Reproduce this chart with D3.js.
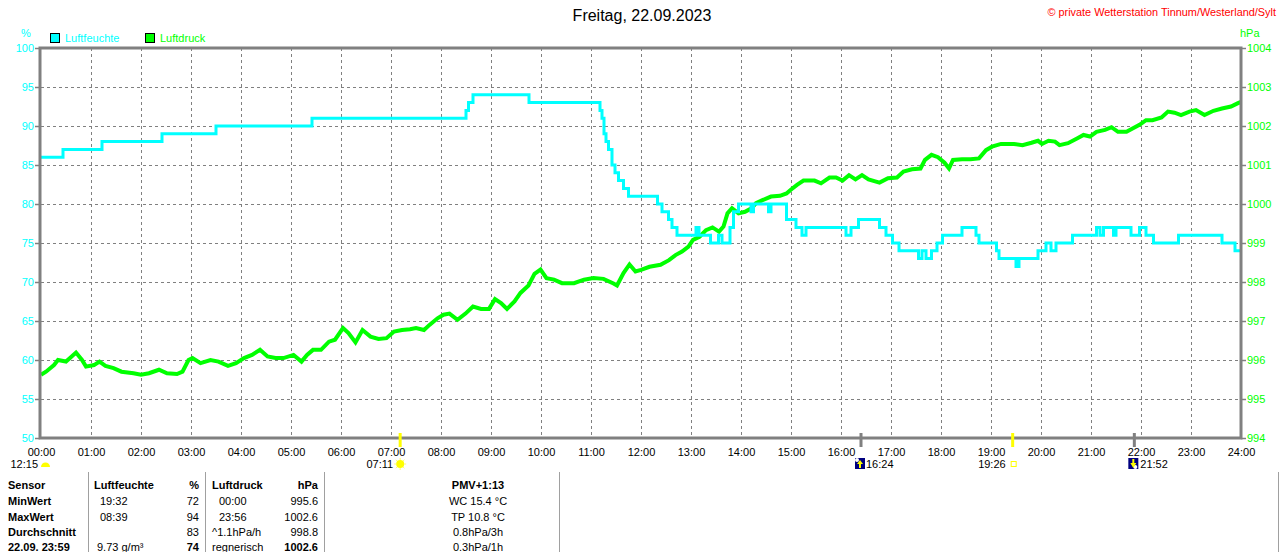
<!DOCTYPE html>
<html>
<head>
<meta charset="utf-8">
<script src="https://cdn.jsdelivr.net/npm/d3@7"></script>
<style>
  body { margin: 0; background: #fff; overflow: hidden; }
  svg { display: block; font-family: "Liberation Sans", Arial, sans-serif; }
</style>
</head>
<body>
<script>
// Daten
const hourLabels = ["00:00","01:00","02:00","03:00","04:00","05:00","06:00","07:00","08:00","09:00","10:00","11:00","12:00",
  "13:00","14:00","15:00","16:00","17:00","18:00","19:00","20:00","21:00","22:00","23:00","24:00"];
const humTicks = [50, 55, 60, 65, 70, 75, 80, 85, 90, 95, 100];
const presTicks = [994, 995, 996, 997, 998, 999, 1000, 1001, 1002, 1003, 1004];

// Luftfeuchte, Stufen (Stunde, %)
const humTimes = [0, 0.44, 1.22, 2.42, 3.50, 5.42, 8.50, 8.55, 8.64, 9.76, 11.18, 11.22, 11.26, 11.30, 11.35, 11.42, 11.48,
  11.55, 11.65, 11.75, 12.33, 12.42, 12.55, 12.62, 12.72, 13.10, 13.16, 13.39, 13.55, 13.62, 13.78, 13.85, 13.95, 14.20,
  14.25, 14.55, 14.60, 14.91, 15.10, 15.22, 15.30, 16.10, 16.20, 16.35, 16.77, 16.90, 17.03, 17.16, 17.55, 17.62, 17.70,
  17.81, 17.92, 18.03, 18.42, 18.70, 18.76, 19.11, 19.16, 19.50, 19.56, 19.94, 20.10, 20.20, 20.30, 20.63, 21.11, 21.18,
  21.25, 21.45, 21.50, 21.80, 21.97, 22.10, 22.25, 22.75, 23.62, 23.88, 24];
const humValues = [86, 87, 88, 89, 90, 91, 92, 93, 94, 93, 92, 91, 89, 88, 87, 85, 84,
  83, 82, 81, 80, 79, 78, 77, 76, 77, 76, 75, 76, 75, 77, 79, 80, 79,
  80, 79, 80, 78, 77, 76, 77, 76, 77, 78, 77, 76, 75, 74, 73, 74, 73,
  74, 75, 76, 77, 76, 75, 74, 73, 72, 73, 74, 75, 74, 75, 76, 77, 76,
  77, 76, 77, 76, 77, 76, 75, 76, 75, 74, 74];

// Luftdruck (Stunde, hPa)
const presTimes = [0, 0.10, 0.26, 0.34, 0.50, 0.58, 0.70, 0.82, 0.90, 1.06, 1.17, 1.29, 1.45, 1.61, 1.85, 2.00, 2.16, 2.36,
  2.52, 2.72, 2.83, 2.95, 3.03, 3.19, 3.39, 3.55, 3.74, 3.90, 4.06, 4.22, 4.38, 4.53, 4.69, 4.85, 5.05, 5.21, 5.32, 5.44,
  5.60, 5.76, 5.88, 6.04, 6.15, 6.29, 6.43, 6.59, 6.75, 6.91, 7.06, 7.22, 7.38, 7.50, 7.66, 7.77, 7.93, 8.05, 8.17, 8.33,
  8.49, 8.64, 8.80, 8.96, 9.08, 9.20, 9.32, 9.47, 9.59, 9.75, 9.87, 9.99, 10.11, 10.26, 10.42, 10.66, 10.86, 11.05, 11.25,
  11.45, 11.52, 11.65, 11.77, 11.89, 12.00, 12.17, 12.39, 12.56, 12.69, 12.82, 12.95, 13.04, 13.17, 13.30, 13.43, 13.56,
  13.65, 13.73, 13.82, 13.95, 14.08, 14.21, 14.30, 14.43, 14.60, 14.78, 14.91, 14.99, 15.12, 15.25, 15.47, 15.60, 15.77,
  15.90, 16.03, 16.16, 16.29, 16.42, 16.55, 16.77, 16.94, 17.12, 17.25, 17.42, 17.59, 17.68, 17.81, 17.94, 18.07, 18.16,
  18.24, 18.42, 18.59, 18.76, 18.90, 19.02, 19.20, 19.46, 19.63, 19.81, 19.94, 20.02, 20.15, 20.28, 20.37, 20.54, 20.72,
  20.85, 20.98, 21.11, 21.28, 21.41, 21.54, 21.71, 21.84, 21.97, 22.10, 22.23, 22.41, 22.54, 22.67, 22.80, 22.97, 23.10,
  23.27, 23.45, 23.62, 23.80, 23.93, 24];
const presValues = [995.62, 995.70, 995.87, 996.00, 995.96, 996.05, 996.19, 996.00, 995.83, 995.87, 995.96, 995.85, 995.79,
  995.70, 995.66, 995.62, 995.66, 995.75, 995.66, 995.64, 995.70, 996.00, 996.05, 995.92, 996.00, 995.96, 995.85, 995.92,
  996.05, 996.13, 996.26, 996.09, 996.05, 996.05, 996.13, 995.96, 996.13, 996.26, 996.26, 996.47, 996.52, 996.82, 996.69,
  996.45, 996.77, 996.60, 996.54, 996.56, 996.73, 996.77, 996.79, 996.82, 996.77, 996.90, 997.07, 997.16, 997.19, 997.03,
  997.19, 997.37, 997.31, 997.31, 997.56, 997.46, 997.31, 997.50, 997.72, 997.91, 998.21, 998.32, 998.10, 998.06, 997.97,
  997.97, 998.06, 998.10, 998.08, 997.96, 997.91, 998.23, 998.45, 998.27, 998.31, 998.39, 998.44, 998.56, 998.69, 998.78,
  998.91, 999.08, 999.16, 999.33, 999.40, 999.29, 999.42, 999.76, 999.89, 999.76, 999.80, 999.89, 1000.02, 1000.10,
  1000.19, 1000.21, 1000.27, 1000.36, 1000.49, 1000.60, 1000.60, 1000.53, 1000.68, 1000.68, 1000.60, 1000.74, 1000.63,
  1000.74, 1000.63, 1000.55, 1000.66, 1000.68, 1000.83, 1000.89, 1000.91, 1001.13, 1001.26, 1001.20, 1001.06, 1000.91,
  1001.13, 1001.15, 1001.15, 1001.17, 1001.38, 1001.47, 1001.54, 1001.54, 1001.51, 1001.57, 1001.62, 1001.54, 1001.62,
  1001.60, 1001.51, 1001.56, 1001.68, 1001.77, 1001.73, 1001.85, 1001.90, 1001.97, 1001.85, 1001.85, 1001.94, 1002.03,
  1002.15, 1002.15, 1002.22, 1002.37, 1002.34, 1002.28, 1002.37, 1002.41, 1002.28, 1002.39, 1002.45, 1002.50, 1002.58,
  1002.62];

// Sonne / Mond
const sunriseTime = "07:11";
const sunsetTime = "19:26";
const moonriseTime = "16:24";
const moonsetTime = "21:52";
const moonLeftLabel = "12:15";

// Tabelle
const tableHeader = ["Sensor", "Luftfeuchte", "%", "Luftdruck", "hPa", "PMV+1:13"];
const rowLabels = ["MinWert", "MaxWert", "Durchschnitt", "22.09. 23:59"];
const humInfo = ["19:32", "08:39", "", "9.73 g/m³"];
const humStats = ["72", "94", "83", "74"];
const presInfo = ["00:00", "23:56", "^1.1hPa/h", "regnerisch"];
const presStats = ["995.6", "1002.6", "998.8", "1002.6"];
const extraInfo = ["WC 15.4 °C", "TP 10.8 °C", "0.8hPa/3h", "0.3hPa/1h"];

const CYAN = "#00ffff", GREEN = "#00ff00", GRAY = "#808080";

const svg = d3.select("body").append("svg")
  .attr("width", 1280).attr("height", 552);

const x = d3.scaleLinear().domain([0, 24]).range([41, 1241]);
const yH = d3.scaleLinear().domain([50, 100]).range([438, 48]);
const yP = d3.scaleLinear().domain([994, 1004]).range([438, 48]);

function toHours(s) {
  const p = s.split(":");
  return +p[0] + p[1] / 60;
}

// Titel
svg.append("text").attr("x", 642).attr("y", 21).attr("text-anchor", "middle")
  .style("font-size", "16px").text("Freitag, 22.09.2023");
svg.append("text").attr("x", 1276).attr("y", 16).attr("text-anchor", "end")
  .attr("fill", "#ff0000").style("font-size", "10.9px")
  .text("© private Wetterstation Tinnum/Westerland/Sylt");

// Legende
svg.append("text").attr("x", 26).attr("y", 37).attr("text-anchor", "middle")
  .attr("fill", CYAN).style("font-size", "11px").text("%");
svg.append("text").attr("x", 1240).attr("y", 37)
  .attr("fill", GREEN).style("font-size", "11px").text("hPa");
const legend = [["Luftfeuchte", CYAN, 50], ["Luftdruck", GREEN, 145]];
legend.forEach(function (l) {
  svg.append("rect").attr("x", l[2] + 0.5).attr("y", 33.5).attr("width", 9).attr("height", 9)
    .attr("fill", l[1]).attr("stroke", "#000");
  svg.append("text").attr("x", l[2] + 15).attr("y", 42).attr("fill", l[1])
    .style("font-size", "11px").text(l[0]);
});

// Gitter
const grid = svg.append("g").attr("stroke", GRAY).attr("stroke-dasharray", "3,3").attr("stroke-width", 1);
grid.selectAll("line.v").data(d3.range(1, hourLabels.length - 1)).enter().append("line")
  .attr("x1", d => x(d) + 0.5).attr("x2", d => x(d) + 0.5).attr("y1", 48).attr("y2", 438);
grid.selectAll("line.h").data(humTicks.slice(1, -1)).enter().append("line")
  .attr("x1", 41).attr("x2", 1241).attr("y1", d => yH(d) + 0.5).attr("y2", d => yH(d) + 0.5);

// Achsen
const axL = svg.append("g").attr("transform", "translate(40,0)")
  .call(d3.axisLeft(yH).tickValues(humTicks).tickSize(5).tickPadding(1).tickFormat(d3.format("d")));
axL.selectAll("text").attr("fill", CYAN).style("font-size", "11px").style("font-family", "inherit");

const axR = svg.append("g").attr("transform", "translate(1241,0)")
  .call(d3.axisRight(yP).tickValues(presTicks).tickSize(5).tickPadding(1).tickFormat(d3.format("d")));
axR.selectAll("text").attr("fill", GREEN).style("font-size", "11px").style("font-family", "inherit");

const axB = svg.append("g").attr("transform", "translate(0,438)")
  .call(d3.axisBottom(x).tickValues(d3.range(hourLabels.length)).tickSize(0).tickPadding(10)
    .tickFormat((d, i) => hourLabels[i]));
axB.selectAll("text").attr("fill", "#000").style("font-size", "11px").style("font-family", "inherit");

[axL, axR, axB].forEach(function (a) {
  a.select(".domain").remove();
  a.selectAll("line").attr("stroke", GRAY).attr("stroke-width", 1.5);
});

// Linien
const pres = presTimes.map((t, i) => [t, presValues[i]]);
const hum = humTimes.map((t, i) => [t, humValues[i]]);

svg.append("path").datum(pres)
  .attr("fill", "none").attr("stroke", GREEN).attr("stroke-width", 4)
  .attr("stroke-linejoin", "miter")
  .attr("d", d3.line().x(d => x(d[0])).y(d => yP(d[1])));

svg.append("path").datum(hum)
  .attr("fill", "none").attr("stroke", CYAN).attr("stroke-width", 3)
  .attr("d", d3.line().x(d => x(d[0])).y(d => yH(d[1])).curve(d3.curveStepAfter));

// Rahmen
svg.append("rect").attr("x", 40).attr("y", 48).attr("width", 1201).attr("height", 390)
  .attr("fill", "none").attr("stroke", GRAY).attr("stroke-width", 3);

// Sonnenauf-/untergang, Mondauf-/untergang
const mk = svg.append("g");
const tRise = toHours(sunriseTime), tSet = toHours(sunsetTime);
const tMoonR = toHours(moonriseTime), tMoonS = toHours(moonsetTime);

[tRise, tSet].forEach(function (t) {
  mk.append("line").attr("x1", x(t)).attr("x2", x(t)).attr("y1", 433).attr("y2", 447)
    .attr("stroke", "#ffff00").attr("stroke-width", 3);
});
[tMoonR, tMoonS].forEach(function (t) {
  mk.append("line").attr("x1", x(t)).attr("x2", x(t)).attr("y1", 433).attr("y2", 447)
    .attr("stroke", GRAY).attr("stroke-width", 3);
});

// Sonnenaufgang
mk.append("text").attr("x", x(tRise) - 7).attr("y", 468).attr("text-anchor", "end")
  .style("font-size", "11px").text(sunriseTime);
const sun = mk.append("g").attr("transform", `translate(${x(tRise)},464)`);
sun.selectAll("line").data(d3.range(8)).enter().append("line")
  .attr("x1", d => Math.cos(d * Math.PI / 4) * 4).attr("y1", d => Math.sin(d * Math.PI / 4) * 4)
  .attr("x2", d => Math.cos(d * Math.PI / 4) * 6).attr("y2", d => Math.sin(d * Math.PI / 4) * 6)
  .attr("stroke", "#ffff66").attr("stroke-width", 1);
sun.append("circle").attr("r", 4).attr("fill", "#ffff00");

// Sonnenuntergang
mk.append("text").attr("x", x(tSet) - 7).attr("y", 468).attr("text-anchor", "end")
  .style("font-size", "11px").text(sunsetTime);
mk.append("rect").attr("x", x(tSet) - 1.5).attr("y", 461.5).attr("width", 5).attr("height", 5)
  .attr("fill", "none").attr("stroke", "#ffff00").attr("stroke-width", 1);

// Mond
function moonIcon(t, up) {
  const g = mk.append("g").attr("transform", `translate(${x(t) - 6},458)`);
  g.append("rect").attr("width", 10).attr("height", 11).attr("fill", "#000080");
  g.append("circle").attr("cx", up ? 2 : 7).attr("cy", up ? 2 : 9).attr("r", 2).attr("fill", "#fff");
  g.append("path").attr("fill", "#ffff00")
    .attr("d", up ? "M5,2 L8,6 L6,6 L6,10 L4,10 L4,6 L2,6 Z" : "M5,10 L8,5 L6,5 L6,1 L4,1 L4,5 L2,5 Z");
  return g;
}
moonIcon(tMoonR, true);
moonIcon(tMoonS, false);
mk.append("text").attr("x", x(tMoonR) + 5).attr("y", 468).style("font-size", "11px").text(moonriseTime);
mk.append("text").attr("x", x(tMoonS) + 6).attr("y", 468).style("font-size", "11px").text(moonsetTime);

// linker Rand 12:15
mk.append("text").attr("x", x(0) - 3).attr("y", 468).attr("text-anchor", "end")
  .style("font-size", "11px").text(moonLeftLabel);
mk.append("path").attr("fill", "#ffff00")
  .attr("d", `M${x(0)},467 A4.5,4.5 0 0 1 ${x(0) + 9},467 Z`);

// Tabelle
const tb = svg.append("g").style("font-size", "11px");
[88, 205, 324, 559, 1278].forEach(function (sx) {
  tb.append("line").attr("x1", sx + 0.5).attr("x2", sx + 0.5).attr("y1", 472).attr("y2", 552)
    .attr("stroke", "#a0a0a0").attr("stroke-width", 1);
});
const rowY = [505, 521, 536, 551];
const headY = 489;
const bold = "bold";
tb.append("text").attr("x", 8).attr("y", headY).style("font-weight", bold).text(tableHeader[0]);
tb.append("text").attr("x", 94).attr("y", headY).style("font-weight", bold).text(tableHeader[1]);
tb.append("text").attr("x", 199).attr("y", headY).attr("text-anchor", "end").style("font-weight", bold).text(tableHeader[2]);
tb.append("text").attr("x", 212).attr("y", headY).style("font-weight", bold).text(tableHeader[3]);
tb.append("text").attr("x", 318).attr("y", headY).attr("text-anchor", "end").style("font-weight", bold).text(tableHeader[4]);
tb.append("text").attr("x", 478).attr("y", headY).attr("text-anchor", "middle").style("font-weight", bold).text(tableHeader[5]);

rowLabels.forEach(function (lab, i) {
  const y = rowY[i];
  const last = i === rowLabels.length - 1;
  tb.append("text").attr("x", 8).attr("y", y).style("font-weight", bold).text(lab);
  tb.append("text").attr("x", humInfo[i].length > 5 ? 97 : 100).attr("y", y).text(humInfo[i]);
  tb.append("text").attr("x", 199).attr("y", y).attr("text-anchor", "end")
    .style("font-weight", last ? bold : null).text(humStats[i]);
  tb.append("text").attr("x", presInfo[i].length > 5 ? 212 : 219).attr("y", y).text(presInfo[i]);
  tb.append("text").attr("x", 318).attr("y", y).attr("text-anchor", "end")
    .style("font-weight", last ? bold : null).text(presStats[i]);
  tb.append("text").attr("x", 478).attr("y", y).attr("text-anchor", "middle").text(extraInfo[i]);
});
</script>
</body>
</html>
